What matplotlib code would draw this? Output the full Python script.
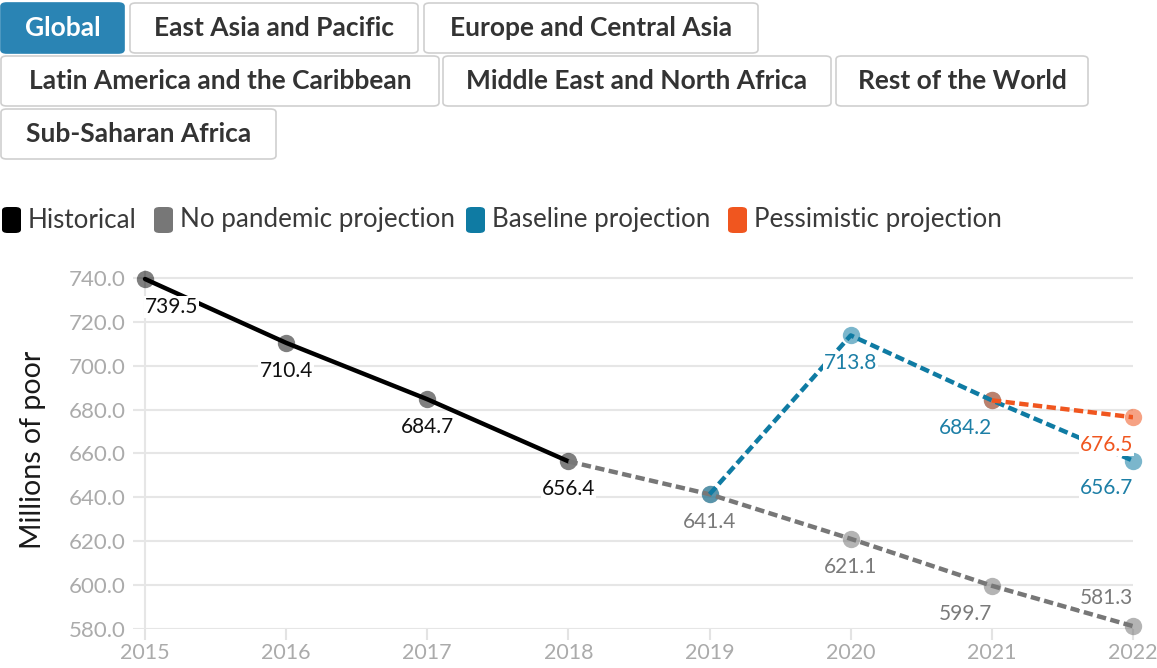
import matplotlib
matplotlib.use("Agg")
import matplotlib.pyplot as plt
from matplotlib.patches import FancyBboxPatch

# data
regions = ["Global", "East Asia and Pacific", "Europe and Central Asia",
           "Latin America and the Caribbean", "Middle East and North Africa",
           "Rest of the World", "Sub-Saharan Africa"]

hist_years = [2015, 2016, 2017, 2018]
hist_vals = [739.5, 710.4, 684.7, 656.4]

nopand_years = [2018, 2019, 2020, 2021, 2022]
nopand_vals = [656.4, 641.4, 621.1, 599.7, 581.3]

base_years = [2019, 2020, 2021, 2022]
base_vals = [641.4, 713.8, 684.2, 656.7]

pess_years = [2021, 2022]
pess_vals = [684.2, 676.5]

series_names = ["Historical", "No pandemic projection", "Baseline projection", "Pessimistic projection"]
year_ticks = list(range(2015, 2023))
y_ticks = list(range(580, 741, 20))

BLACK = "#000000"
GREY = "#777777"
BLUE = "#0f7ba3"
ORANGE = "#f0561f"
BTN_BLUE = "#2a84b4"

W, H = 1157, 668
plt.rcParams["font.family"] = ["Lato", "DejaVu Sans"]

fig = plt.figure(figsize=(W / 100, H / 100), dpi=100)


def fx(x):
    return x / W


def fy(y):
    return 1 - y / H


# region buttons (pixel boxes: left, top, right, bottom)
btn_boxes = [(1, 3, 124, 53), (130, 3, 418, 53), (424, 3, 758, 53),
             (1, 56, 439, 106), (443, 56, 831, 106), (836, 56, 1088, 106),
             (1, 109, 276, 159)]
for name, (l, t, r, b) in zip(regions, btn_boxes):
    active = name == "Global"
    box = FancyBboxPatch((fx(l), fy(b)), fx(r - l), (b - t) / H,
                         boxstyle="round,pad=0,rounding_size=0.005",
                         transform=fig.transFigure,
                         facecolor=BTN_BLUE if active else "white",
                         edgecolor=BTN_BLUE if active else "#cfcfcf", lw=1.2)
    fig.patches.append(box)
    fig.text(fx((l + r) / 2), fy((t + b) / 2), name, ha="center", va="center",
             fontsize=19, fontweight="bold",
             color="white" if active else "#333333")

# legend
leg_colors = [BLACK, GREY, BLUE, ORANGE]
leg_x = [2, 154, 466, 728]
for name, c, x in zip(series_names, leg_colors, leg_x):
    sq = FancyBboxPatch((fx(x), fy(233)), fx(19), 26 / H,
                        boxstyle="round,pad=0,rounding_size=0.005",
                        transform=fig.transFigure, facecolor=c, edgecolor="none")
    fig.patches.append(sq)
    fig.text(fx(x + 26), fy(220), name, ha="left", va="center",
             fontsize=18.7, color="#3a3a3a")

# chart
ax = fig.add_axes([fx(133), fy(629), fx(1133 - 133), (629 - 270) / H])
ax.set_xlim(2015 - 12 / 141, 2022)
ax.set_ylim(580, 743.6)

ax.plot(hist_years, hist_vals, color=BLACK, lw=3.2, zorder=4, solid_capstyle="round")
ax.plot(nopand_years, nopand_vals, color=GREY, lw=3.2, dashes=(2.1, 1.0), zorder=4)
ax.plot(base_years, base_vals, color=BLUE, lw=3.2, dashes=(2.1, 1.0), zorder=4)
ax.plot(pess_years, pess_vals, color=ORANGE, lw=3.2, dashes=(2.1, 1.0), zorder=4)

ax.plot(hist_years, hist_vals, "o", ms=12.5, color=BLACK, alpha=0.5, mec="none", zorder=3, clip_on=False)
ax.plot(nopand_years[1:], nopand_vals[1:], "o", ms=12.5, color=GREY, alpha=0.55, mec="none", zorder=3, clip_on=False)
ax.plot(base_years, base_vals, "o", ms=12.5, color=BLUE, alpha=0.55, mec="none", zorder=3, clip_on=False)
ax.plot(pess_years, pess_vals, "o", ms=12.5, color=ORANGE, alpha=0.55, mec="none", zorder=3, clip_on=False)


def label(x, v, color, above=False):
    ha = "center"
    if x == 2015:
        ha = "left"
    elif x >= 2021:
        ha = "right"
    dy = 20 if above else -20
    ax.annotate(f"{v:.1f}", (x, v), xytext=(0, dy), textcoords="offset points",
                ha=ha, va="center", fontsize=15, color=color, zorder=5,
                bbox=dict(boxstyle="square,pad=0.05", fc="white", ec="none"))


for x, v in zip(hist_years, hist_vals):
    label(x, v, "#111111")
for x, v in zip(nopand_years[1:], nopand_vals[1:]):
    label(x, v, "#7a7a7a", above=(x == 2022))
for x, v in zip(base_years[1:], base_vals[1:]):
    label(x, v, "#1d7fa6")
label(pess_years[-1], pess_vals[-1], ORANGE)

ax.set_yticks(y_ticks)
ax.set_yticklabels([f"{v:.1f}" for v in y_ticks])
ax.set_xticks(year_ticks)
ax.set_xticklabels([str(y) for y in year_ticks])
ax.grid(axis="y", color="#e6e6e6", lw=1.5, zorder=0)
ax.axvline(2015, color="#e6e6e6", lw=1.5, zorder=0)
for s in ax.spines.values():
    s.set_visible(False)
ax.tick_params(axis="y", length=0, pad=5, labelsize=16, labelcolor="#ababab")
ax.tick_params(axis="x", length=8, width=1.5, color="#e3e3e3", pad=2,
               labelsize=15.5, labelcolor="#ababab")
ax.set_ylabel("Millions of poor", fontsize=20.5, color="#1a1a1a")
ax.yaxis.set_label_coords((46 - 133) / 1000, 0.5)

fig.savefig("out.png", dpi=100)
